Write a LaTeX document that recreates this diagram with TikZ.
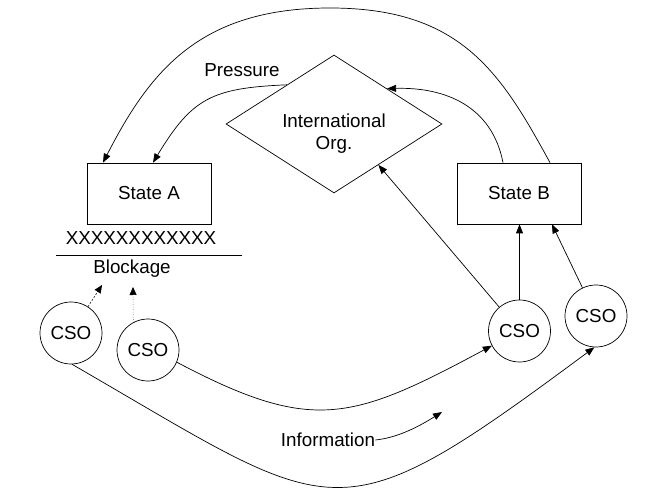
\documentclass[tikz,border=0pt]{standalone}
\usepackage{fontspec}
\setmainfont{Liberation Sans}
\usetikzlibrary{arrows.meta,positioning,calc,shapes.geometric}

\begin{document}
\begin{tikzpicture}[
  x=1pt, y=1pt,
  font=\fontsize{18.8pt}{22pt}\selectfont,
  line width=0.7pt,
  state/.style={draw, minimum width=124pt, minimum height=61pt, inner sep=0pt},
  org/.style={draw, diamond, shape aspect=1.565, minimum width=216pt,
              minimum height=138pt, inner sep=0pt},
  cso/.style={draw, circle, minimum size=62pt, inner sep=0pt},
  lbl/.style={inner sep=0pt}
]
\useasboundingbox (0,0) rectangle (658,501);

\node[state] (stateA) at (149,307.5) {State A};
\node[state] (stateB) at (519,307.5) {State B};
\node[org] (io) at (334,377) {};
\node[lbl, align=center] (ioname) at (334,367) {International\\Org.};

\node[lbl, below=7pt of stateA, xshift=-8pt] (xmarks) {XXXXXXXXXXXX};
\node[lbl] (blockage) at (132,232) {Blockage};
\draw (56,246) -- (242,246);

\node[lbl] (pressure) at (242,431) {Pressure};
\node[lbl] (info) at (328,61) {Information};

\node[cso] (cso1) at (71,168) {CSO};
\node[cso] (cso2) at (148,151) {CSO};
\node[cso] (cso3) at (519.5,170) {CSO};
\node[cso] (cso4) at (596,185) {CSO};

\coordinate (blk1) at (102,216);
\coordinate (blk2) at (133,214);
\coordinate (infotip) at (442,89);

% pressure on State A
\draw[-{Triangle[length=9pt,width=7pt]}] ([xshift=31pt]stateB.north)
  .. controls (500,430) and (460,493) .. (330,493)
  .. controls (200,493) and (150,430) .. ([xshift=-46pt]stateA.north);
\draw[-{Triangle[length=9pt,width=7pt]}] ($(io.west)!0.565!(io.north)$)
  .. controls (212,413) and (192,403) .. ([xshift=4pt]stateA.north);
\draw[-{Triangle[length=9pt,width=7pt]}] ([xshift=-16pt]stateB.north)
  .. controls (492,395) and (445,414) .. ($(io.north)!0.49!(io.east)$);

% CSOs
\draw[-{Triangle[length=9pt,width=7pt]}] (cso3) -- ($(io.south)!0.41!(io.east)$);
\draw[-{Triangle[length=9pt,width=7pt]}] (cso3) -- (cso3 |- stateB.south);
\draw[-{Triangle[length=9pt,width=7pt]}] (cso4) -- ([xshift=33pt]stateB.south);
\draw[-{Triangle[length=8pt,width=7pt]}, line width=0.5pt, dash pattern=on 2pt off 1.5pt] (cso1) -- (blk1);
\draw[-{Triangle[length=8pt,width=7pt]}, line width=0.5pt, dotted] (cso2.118) -- (blk2);

% information
\draw[-{Triangle[length=9pt,width=7pt]}] (cso2.-23)
  .. controls (312,67.5) and (351,79.6) .. (cso3.208);
\draw[-{Triangle[length=9pt,width=7pt]}] (cso1.-88)
  .. controls (340,-18) and (332,-41) .. (cso4.-93);
\draw[-{Triangle[length=9pt,width=7pt]}] (info.east)
  .. controls (395,63) and (415,72) .. (infotip);
\end{tikzpicture}
\end{document}
